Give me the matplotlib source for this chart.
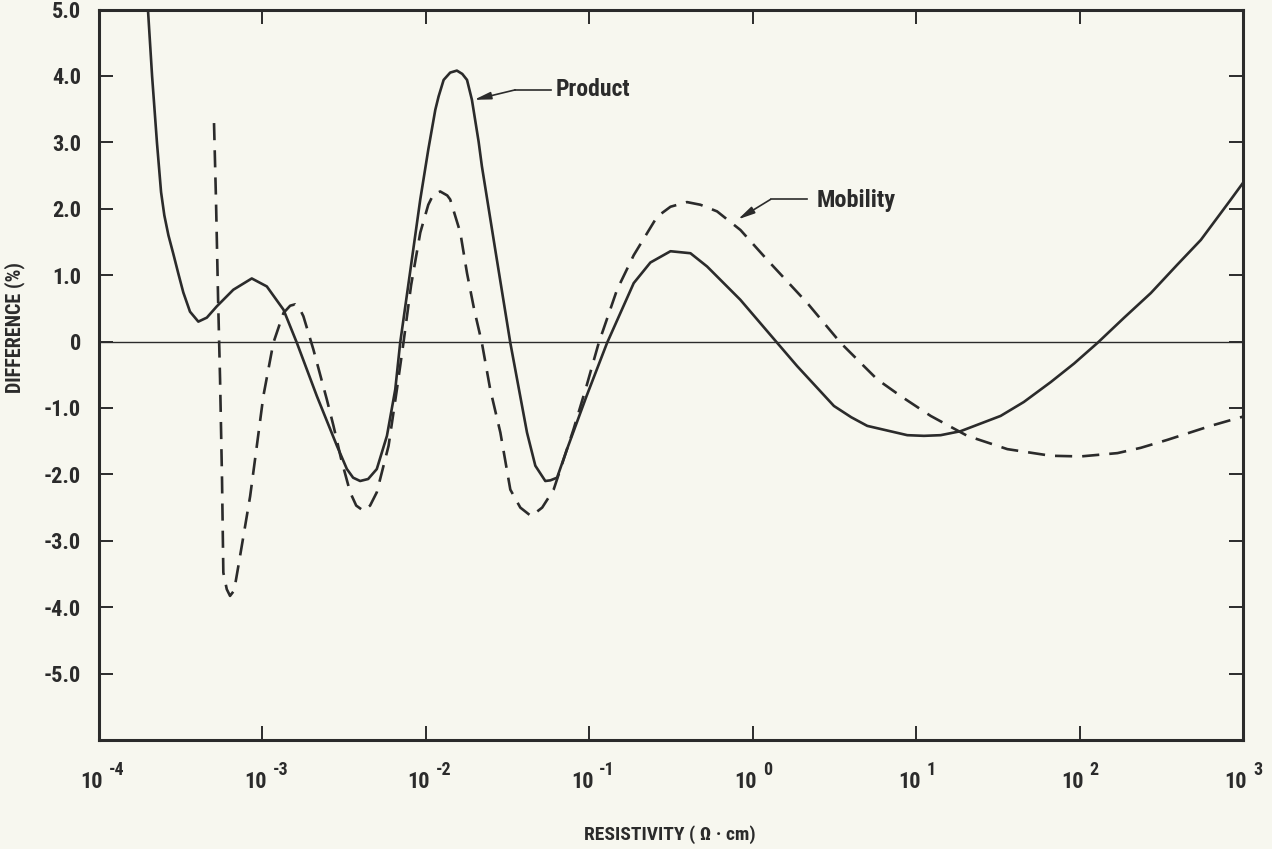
import numpy as np
import matplotlib
matplotlib.use("Agg")
import matplotlib.pyplot as plt
from matplotlib import transforms

plt.rcParams['font.family'] = ['Liberation Sans Narrow', 'Roboto Condensed',
                               'Open Sans Condensed', 'Liberation Sans', 'DejaVu Sans']
plt.rcParams['font.weight'] = 'bold'

INK = '#2b2b2b'
PAPER = '#f7f7ef'

# Percent difference vs. resistivity (log10 of ohm-cm)
log_rho_product = [-3.700, -3.675, -3.645, -3.620, -3.600, -3.575, -3.545, -3.514,
                   -3.484, -3.443, -3.392, -3.340, -3.279, -3.178, -3.065, -2.973,
                   -2.871, -2.789, -2.667, -2.544, -2.483, -2.445, -2.402, -2.353,
                   -2.300, -2.238, -2.187, -2.157, -2.096, -2.034, -1.985, -1.942,
                   -1.922, -1.891, -1.851, -1.810, -1.777, -1.748, -1.718, -1.677,
                   -1.657, -1.575, -1.483, -1.381, -1.330, -1.269, -1.238, -1.197,
                   -1.136, -1.018, -0.891, -0.728, -0.626, -0.503, -0.381, -0.279,
                   -0.076, 0.150, 0.272, 0.497, 0.603, 0.701, 0.946, 1.048, 1.150,
                   1.272, 1.517, 1.659, 1.824, 1.967, 2.110, 2.273, 2.436, 2.599,
                   2.742, 2.926, 3.006]
diff_product = [4.99, 4.00, 2.99, 2.25, 1.90, 1.60, 1.32, 1.02,
                0.74, 0.45, 0.30, 0.36, 0.53, 0.78, 0.95, 0.83,
                0.48, -0.02, -0.82, -1.57, -1.92, -2.05, -2.10, -2.07,
                -1.92, -1.42, -0.72, -0.02, 1.05, 2.14, 2.89, 3.49,
                3.69, 3.94, 4.05, 4.08, 4.03, 3.94, 3.64, 3.01,
                2.64, 1.38, -0.02, -1.37, -1.87, -2.10, -2.09, -2.05,
                -1.62, -0.83, -0.02, 0.88, 1.19, 1.36, 1.33, 1.13,
                0.63, -0.02, -0.37, -0.97, -1.14, -1.27, -1.41, -1.42, -1.41,
                -1.35, -1.12, -0.91, -0.61, -0.33, -0.02, 0.36, 0.73, 1.16,
                1.53, 2.14, 2.41]

log_rho_mobility = [-3.296, -3.284, -3.271, -3.259, -3.247, -3.239, -3.218, -3.198,
                    -3.173, -3.147, -3.116, -3.075, -3.034, -2.994, -2.933, -2.871,
                    -2.830, -2.800, -2.769, -2.749, -2.688, -2.606, -2.565, -2.518,
                    -2.463, -2.426, -2.381, -2.341, -2.300, -2.228, -2.177, -2.137,
                    -2.090, -2.034, -1.985, -1.955, -1.912, -1.869, -1.851, -1.789,
                    -1.748, -1.704, -1.657, -1.606, -1.544, -1.483, -1.422, -1.355,
                    -1.288, -1.218, -1.096, -1.018, -0.942, -0.830, -0.728, -0.585,
                    -0.503, -0.402, -0.320, -0.218, -0.075, 0.089, 0.334, 0.538,
                    0.660, 0.762, 0.905, 1.089, 1.313, 1.558, 1.824, 2.007, 2.232,
                    2.375, 2.538, 2.802, 3.000]
diff_mobility = [3.29, 2.14, 0.63, -0.57, -2.08, -3.48, -3.73, -3.83,
                 -3.75, -3.38, -2.93, -2.33, -1.57, -0.82, -0.02, 0.43,
                 0.54, 0.56, 0.48, 0.38, -0.12, -0.87, -1.27, -1.77,
                 -2.27, -2.47, -2.55, -2.47, -2.27, -1.57, -0.72, -0.02,
                 0.85, 1.64, 2.06, 2.21, 2.26, 2.20, 2.14, 1.64,
                 1.03, 0.48, -0.02, -0.72, -1.37, -2.23, -2.50, -2.63,
                 -2.50, -2.23, -1.32, -0.68, -0.02, 0.78, 1.30, 1.88,
                 2.03, 2.10, 2.06, 1.96, 1.68, 1.23, 0.58, -0.02,
                 -0.32, -0.57, -0.82, -1.12, -1.42, -1.62, -1.72, -1.73, -1.68,
                 -1.60, -1.48, -1.27, -1.13]

x_exponents = [-4, -3, -2, -1, 0, 1, 2, 3]
y_ticks = [-5, -4, -3, -2, -1, 0, 1, 2, 3, 4, 5]
y_ticklabels = ['-5.0', '-4.0', '-3.0', '-2.0', '-1.0', '0', '1.0', '2.0', '3.0', '4.0', '5.0']

rho_product = 10.0 ** np.array(log_rho_product)
rho_mobility = 10.0 ** np.array(log_rho_mobility)

fig = plt.figure(figsize=(12.72, 8.49), dpi=100, facecolor=PAPER)
ax = fig.add_axes([0.0778, 0.1284, 0.8994, 0.8604])
ax.set_facecolor(PAPER)

ax.set_xscale('log')
ax.set_xlim(1e-4, 1e3)
ax.set_ylim(-6.0, 5.0)

ax.axhline(0, color=INK, lw=1.0, zorder=1)
ax.plot(rho_product, diff_product, color=INK, lw=1.9, solid_capstyle='round',
        solid_joinstyle='round', zorder=3)
ax.plot(rho_mobility, diff_mobility, color=INK, lw=1.9, linestyle=(0, (6.5, 3.8)),
        dash_joinstyle='round', zorder=3)

for sp in ax.spines.values():
    sp.set_linewidth(2.2)
    sp.set_color(INK)

ax.set_xticks([10.0 ** e for e in x_exponents])
ax.set_xticklabels([''] * len(x_exponents))
ax.xaxis.set_minor_locator(matplotlib.ticker.NullLocator())
ax.set_yticks(y_ticks)
ax.set_yticklabels(y_ticklabels)
ax.tick_params(axis='both', which='major', direction='in', length=10, width=1.4,
               color=INK, top=True, right=True)
ax.tick_params(axis='y', labelsize=16, pad=13, labelcolor=INK)

# Decade labels: "10" with a raised exponent
base = transforms.blended_transform_factory(ax.transData, ax.transAxes)
for e in x_exponents:
    t_main = transforms.offset_copy(base, fig=fig, x=-7, y=-48, units='dots')
    ax.text(10.0 ** e, 0, '10', transform=t_main, ha='center', va='baseline',
            fontsize=16, color=INK, clip_on=False)
    t_exp = transforms.offset_copy(base, fig=fig, x=10, y=-35, units='dots')
    ax.text(10.0 ** e, 0, str(e), transform=t_exp, ha='left', va='baseline',
            fontsize=13, color=INK, clip_on=False)

# Curve call-outs
arrow_style = dict(arrowstyle='-|>,head_length=1.0,head_width=0.22', color=INK, lw=1.2,
                   shrinkA=0, shrinkB=0, mutation_scale=10)
ax.plot([10 ** -1.232, 10 ** -1.453], [3.79, 3.79], color=INK, lw=1.2, zorder=4)
ax.annotate('', xy=(10 ** -1.705, 3.64), xytext=(10 ** -1.453, 3.79),
            arrowprops=arrow_style, zorder=4)
ax.text(10 ** -1.208, 3.80, 'Product', ha='left', va='center', fontsize=17, color=INK)

ax.plot([10 ** 0.334, 10 ** 0.109], [2.14, 2.14], color=INK, lw=1.2, zorder=4)
ax.annotate('', xy=(10 ** -0.09, 1.84), xytext=(10 ** 0.109, 2.14),
            arrowprops=arrow_style, zorder=4)
ax.text(10 ** 0.391, 2.12, 'Mobility', ha='left', va='center', fontsize=17.5, color=INK)

fig.text(15 / 1272, 1 - 328 / 849, 'DIFFERENCE (%)', rotation=90, ha='center', va='center',
         fontsize=14.5, color=INK)
fig.text(670 / 1272, 1 - 835 / 849, 'RESISTIVITY ( \u03a9 \u00b7 cm)', ha='center', va='center',
         fontsize=14, color=INK)

fig.savefig('out.png', dpi=100, facecolor=PAPER)
